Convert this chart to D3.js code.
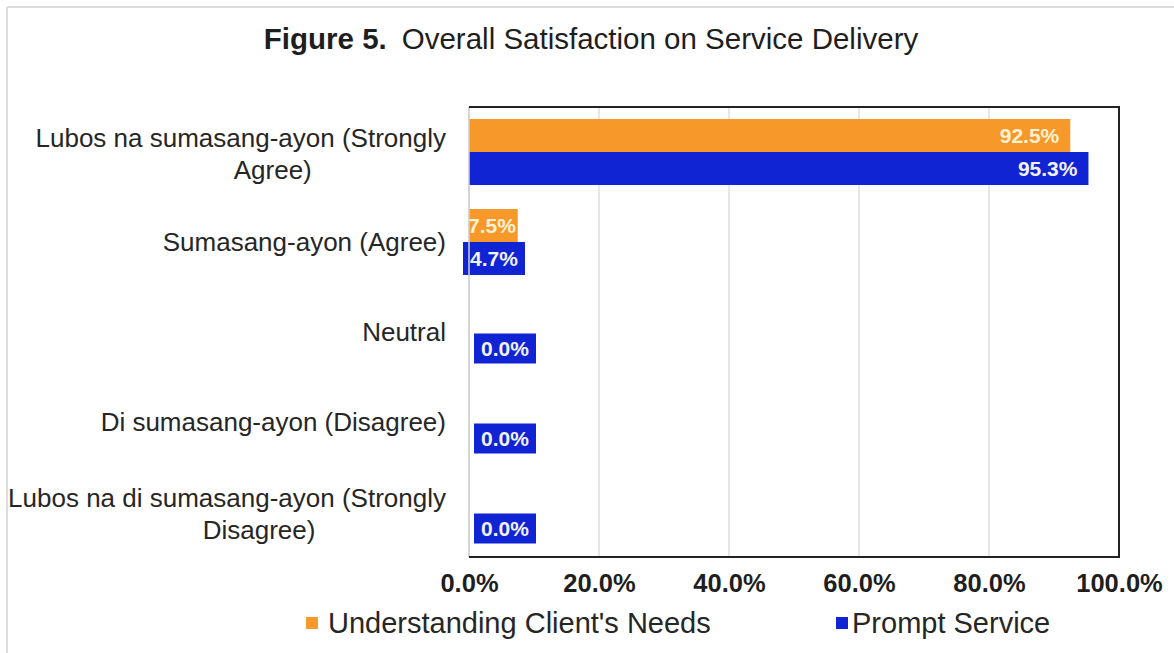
<!DOCTYPE html>
<html>
<head>
<meta charset="utf-8">
<script src="https://cdn.jsdelivr.net/npm/d3@7"></script>
<style>
  html, body { margin: 0; padding: 0; background: #ffffff; }
  svg { display: block; font-family: "Liberation Sans", Arial, sans-serif; }
</style>
</head>
<body>
<svg id="chart" width="1174" height="653"></svg>
<script>
// Survey responses, percentage of respondents
const categories = [
  "Lubos na sumasang-ayon (Strongly Agree)",
  "Sumasang-ayon (Agree)",
  "Neutral",
  "Di sumasang-ayon (Disagree)",
  "Lubos na di sumasang-ayon (Strongly Disagree)"
];
const seriesNames = ["Understanding Client's Needs", "Prompt Service"];
const understandingValues = [92.5, 7.5, 0.0, 0.0, 0.0];
const promptValues = [95.3, 4.7, 0.0, 0.0, 0.0];
const xTicks = [0, 20, 40, 60, 80, 100];
const titleBold = "Figure 5.";
const titleText = "Overall Satisfaction on Service Delivery";

const colors = ["#F7982A", "#1024D4"];
const labelTextColors = ["#FFF2D2", "#F2F2F2"];
const seriesValues = [understandingValues, promptValues];

const svg = d3.select("#chart");
const W = 1174, H = 653;
const plot = { left: 469, right: 1119, top: 107, bottom: 557 };

// outer frame of the figure
svg.append("line").attr("x1", 7).attr("x2", W).attr("y1", 7).attr("y2", 7)
  .attr("stroke", "#dcdcdc").attr("stroke-width", 2);
svg.append("line").attr("x1", 7).attr("x2", 7).attr("y1", 7).attr("y2", H)
  .attr("stroke", "#dcdcdc").attr("stroke-width", 2);

// title
const title = svg.append("text")
  .attr("x", 591).attr("y", 49)
  .attr("text-anchor", "middle")
  .attr("font-size", 29.5)
  .attr("fill", "#1e1e1e");
title.append("tspan").attr("font-weight", "bold").text(titleBold);
title.append("tspan").attr("dx", 15).text(titleText);

// scales
const x = d3.scaleLinear().domain([0, 100]).range([plot.left, plot.right]);
const y = d3.scaleBand().domain(categories).range([plot.top, plot.bottom]).padding(0);
const ySeries = d3.scaleBand().domain(d3.range(seriesNames.length))
  .range([0, y.bandwidth()]).paddingInner(0).paddingOuter(0.364);

// vertical gridlines
svg.append("g")
  .selectAll("line")
  .data(xTicks)
  .join("line")
  .attr("x1", d => x(d)).attr("x2", d => x(d))
  .attr("y1", plot.top).attr("y2", plot.bottom)
  .attr("stroke", "#d6d6d6").attr("stroke-width", 1.2);

// bars
const barsG = svg.append("g");
seriesValues.forEach((vals, s) => {
  barsG.append("g")
    .selectAll("rect")
    .data(vals.map((v, i) => ({ v, cat: categories[i] })))
    .join("rect")
    .attr("x", x(0))
    .attr("y", d => y(d.cat) + ySeries(s))
    .attr("width", d => x(d.v) - x(0))
    .attr("height", ySeries.bandwidth())
    .attr("fill", colors[s]);
});

// data labels
const defs = svg.append("defs");
const labelsG = svg.append("g")
  .attr("font-weight", "bold").attr("font-size", 21);

seriesValues.forEach((vals, s) => {
  vals.forEach((v, i) => {
    const cat = categories[i];
    const by = y(cat) + ySeries(s);
    const bh = ySeries.bandwidth();
    const cy = by + bh / 2;
    const txt = v.toFixed(1) + "%";
    const barW = x(v) - x(0);
    if (s === 0 && v === 0) return; // hidden under the other series' labels
    if (barW > 90) {
      // inside end of a long bar
      labelsG.append("text")
        .attr("x", x(v) - 11).attr("y", cy + 7.5)
        .attr("text-anchor", "end")
        .attr("fill", labelTextColors[s])
        .text(txt);
    } else if (s === 0) {
      // short bar: label centred on a fixed slot and clipped to the bar
      const id = "clip-" + s + "-" + i;
      defs.append("clipPath").attr("id", id)
        .append("rect").attr("x", x(0)).attr("y", by).attr("width", barW).attr("height", bh);
      labelsG.append("text")
        .attr("clip-path", `url(#${id})`)
        .attr("x", x(0) + 23).attr("y", cy + 7.5)
        .attr("text-anchor", "middle")
        .attr("fill", labelTextColors[s])
        .text(txt);
    } else {
      // short bar: label with a filled box
      const boxW = 62, boxH = v === 0 ? bh - 3 : bh;
      const bx = v === 0 ? x(0) + 5 : x(0) - 6;
      labelsG.append("rect")
        .attr("x", bx).attr("y", cy - boxH / 2)
        .attr("width", boxW).attr("height", boxH)
        .attr("fill", colors[s]);
      labelsG.append("text")
        .attr("x", bx + boxW / 2).attr("y", cy + 7.5)
        .attr("text-anchor", "middle")
        .attr("fill", labelTextColors[s])
        .text(txt);
    }
  });
});

// plot frame: light value axis on the left, dark border elsewhere
svg.append("line")
  .attr("x1", plot.left).attr("x2", plot.left)
  .attr("y1", plot.top).attr("y2", plot.bottom)
  .attr("stroke", "#cfcfcf").attr("stroke-width", 1.5);
svg.append("path")
  .attr("d", `M${plot.left},${plot.top}H${plot.right}V${plot.bottom}H${plot.left}`)
  .attr("fill", "none").attr("stroke", "#222").attr("stroke-width", 2);

// x axis tick labels
const xAxis = d3.axisBottom(x).tickValues(xTicks).tickSize(0).tickPadding(0)
  .tickFormat(d => d.toFixed(1) + "%");
const xAxisG = svg.append("g")
  .attr("transform", `translate(0,${plot.bottom})`)
  .call(xAxis);
xAxisG.select(".domain").remove();
xAxisG.selectAll("text")
  .attr("y", 35).attr("dy", null)
  .attr("font-size", 25.5).attr("font-weight", "bold")
  .attr("font-family", "Liberation Sans, Arial, sans-serif")
  .attr("fill", "#1e1e1e");

// category labels, wrapped to the available width
const labelRight = 446, maxLabelW = 445, lineGap = 32;
const catG = svg.append("g").attr("font-size", 26).attr("fill", "#262626");
categories.forEach(cat => {
  const probe = catG.append("text").text(cat);
  const words = cat.split(" ");
  const lines = [];
  let cur = [];
  words.forEach(w => {
    const test = cur.concat(w).join(" ");
    probe.text(test);
    if (probe.node().getComputedTextLength() > maxLabelW && cur.length) {
      lines.push(cur.join(" "));
      cur = [w];
    } else {
      cur.push(w);
    }
  });
  lines.push(cur.join(" "));
  probe.remove();
  const cy = y(cat) + y.bandwidth() / 2;
  if (lines.length === 1) {
    catG.append("text")
      .attr("x", labelRight).attr("y", cy + 9)
      .attr("text-anchor", "end").text(lines[0]);
  } else {
    const t0 = catG.append("text").attr("text-anchor", "end")
      .attr("x", labelRight).attr("y", cy + 11 - lineGap / 2).text(lines[0]);
    const w0 = t0.node().getComputedTextLength();
    lines.slice(1).forEach((ln, k) => {
      catG.append("text").attr("text-anchor", "middle")
        .attr("x", labelRight - w0 / 2 + 32)
        .attr("y", cy + 11 - lineGap / 2 + lineGap * (k + 1)).text(ln);
    });
  }
});

// legend
const legendItems = [{ x: 306, name: seriesNames[0], c: colors[0] },
                     { x: 836, name: seriesNames[1], c: colors[1] }];
const legG = svg.append("g");
legendItems.forEach((d, k) => {
  legG.append("rect").attr("x", d.x).attr("y", 617).attr("width", 12).attr("height", 12)
    .attr("fill", d.c);
  legG.append("text").attr("x", d.x + (k === 0 ? 22 : 16)).attr("y", 633)
    .attr("font-size", 29).attr("fill", "#262626").text(d.name);
});
</script>
</body>
</html>
